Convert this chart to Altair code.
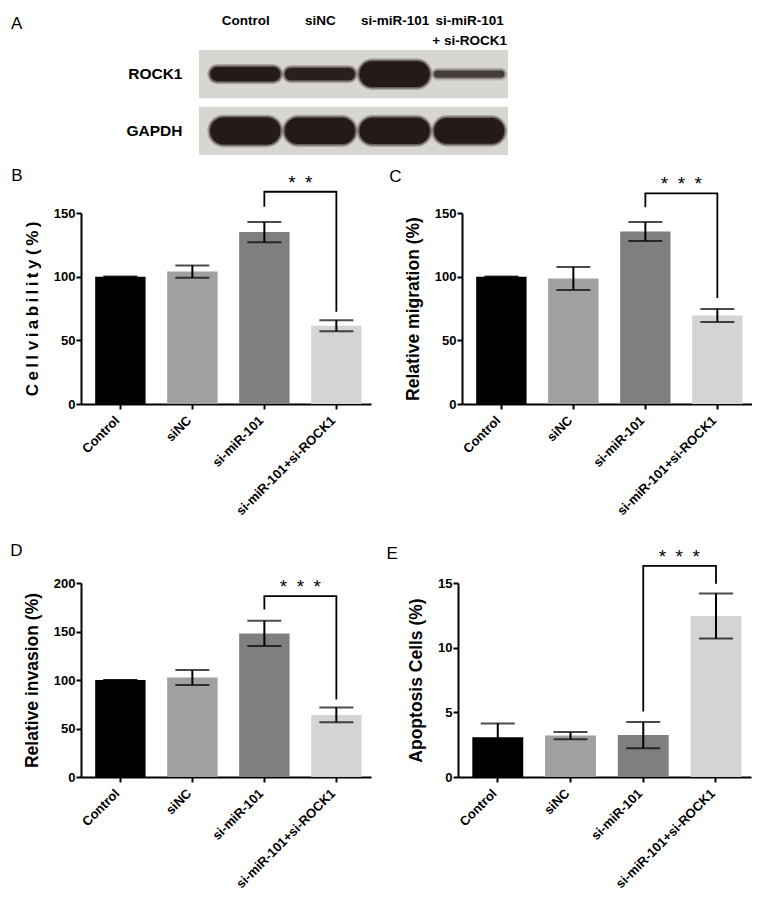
import json
import altair as alt
import pandas as pd

# ---------------- data ----------------
groups = ["Control", "siNC", "si-miR-101", "si-miR-101+si-ROCK1"]
bar_colors = ["#000000", "#a0a0a3", "#7f7f7f", "#d4d4d4"]

via_mean = [100, 104, 135, 61.5]
via_sem = [0, 4.8, 8.0, 4.3]
mig_mean = [100, 98.5, 135.5, 69.5]
mig_sem = [0, 9.0, 7.5, 5.2]
inv_mean = [100, 102.5, 148, 64]
inv_sem = [0, 7.7, 13.0, 7.6]
apo_mean = [3.07, 3.2, 3.24, 12.45]
apo_sem = [1.07, 0.28, 1.02, 1.74]

# bracket: [left leg bottom, top, right leg bottom]
via_bracket = [155, 166.7, 72.5]
mig_bracket = [154.5, 165.4, 83.3]
inv_bracket = [172.6, 186.5, 79.9]
apo_bracket = [5.06, 16.33, 14.95]

# western blot (relative band intensity)
lane_labels = ["Control", "siNC", "si-miR-101", ["si-miR-101", "+ si-ROCK1"]]
proteins = ["ROCK1", "GAPDH"]
rock1_intensity = [0.52, 0.45, 0.95, 0.25]
gapdh_intensity = [1.0, 0.97, 0.97, 0.95]
membrane = [-0.62, 3.52]   # membrane extent in lane units

FONT = "Liberation Sans"

# ---------------- panel A: blot ----------------
rows = []
for i in range(4):
    rows.append({"lane": i, "protein": "ROCK1", "intensity": rock1_intensity[i]})
    rows.append({"lane": i, "protein": "GAPDH", "intensity": gapdh_intensity[i]})
blot_df = pd.DataFrame(rows)

xb = alt.Scale(domain=[-2.201, 3.52], nice=False, zero=False)
yb = alt.Scale(domain=proteins, paddingInner=0.15, paddingOuter=0)
blot_xaxis = alt.Axis(orient="top", values=[0, 1, 2, 3],
                      labelExpr=json.dumps(lane_labels) + "[datum.value]",
                      ticks=False, domain=False, grid=False, title=None,
                      labelFontSize=13.5, labelFontWeight="bold", labelBaseline="middle",
                      labelPadding=30, labelLineHeight=20, labelOverlap=False, labelFlush=False)
blot_yaxis = alt.Axis(ticks=False, domain=False, title=None, labelFontSize=15.5,
                      labelFontWeight="bold", labelPadding=17, offset=-118)

bg_df = pd.DataFrame({"protein": proteins, "x1": [membrane[0]] * 2, "x2": [membrane[1]] * 2})
bg = alt.Chart(bg_df).mark_rect(color="#d8d6d1").encode(
    x=alt.X("x1:Q", scale=xb, axis=blot_xaxis),
    x2="x2:Q",
    y=alt.Y("protein:N", scale=yb, sort=proteins, axis=blot_yaxis),
)

def band_layer(extra, fade):
    return alt.Chart(blot_df).transform_calculate(
        thick="datum.intensity * 27",
    ).transform_calculate(
        half="0.47 - datum.thick / 149",
        sw=f"datum.thick + {extra}",
        op=f"min(1, 0.35 + datum.intensity * 1.3) * {fade}",
    ).transform_calculate(
        x1="datum.lane - datum.half",
        x2="datum.lane + datum.half",
    ).mark_rule(strokeCap="round", color="#241a1a").encode(
        x=alt.X("x1:Q", scale=xb, axis=blot_xaxis),
        x2="x2:Q",
        y=alt.Y("protein:N", scale=yb, sort=proteins, bandPosition=0.5, axis=blot_yaxis),
        strokeWidth=alt.StrokeWidth("sw:Q", scale=None),
        opacity=alt.Opacity("op:Q", scale=None),
    )

blot = alt.layer(bg, band_layer(6, 0.25), band_layer(3, 0.5), band_layer(0, 1.0)).properties(
    width=427, height=105,
    title=alt.TitleParams("A", anchor="start", frame="group", dx=-70, dy=20, offset=0),
)

# ---------------- bar panels ----------------
def spaced(s):
    return " ".join("\u2009".join(w) for w in s.split(" "))

def bar_panel(letter, ytitle, means, sems, ymax, yticks, bracket, stars, width, height,
              tdx, tdy, title_size=17.5):
    df = pd.DataFrame({"group": groups, "mean": means, "sem": sems})
    df["lo"] = df["mean"] - df["sem"]
    df["hi"] = df["mean"] + df["sem"]
    xs = alt.Scale(domain=groups, paddingInner=0.3, paddingOuter=0.164, align=0.6)
    ys = alt.Scale(domain=[0, ymax], nice=False, zero=True)
    xaxis = alt.Axis(title=None, labelAngle=-45, labelFontSize=13, labelFontWeight="bold",
                     labelAlign="right", labelBaseline="middle", labelPadding=9, labelOffset=-3,
                     tickSize=5, tickWidth=2, domainWidth=2, labelOverlap=False)
    yaxis = alt.Axis(values=yticks, grid=False, labelFontSize=13, labelFontWeight="bold",
                     tickSize=5, tickWidth=2, domainWidth=2, labelPadding=1,
                     titleFontSize=title_size, titleFontWeight="bold", titlePadding=12)

    def X():
        return alt.X("group:N", scale=xs, axis=xaxis, sort=groups, title=None)

    def Y(f):
        return alt.Y(f, scale=ys, axis=yaxis, title=ytitle)

    base = alt.Chart(df)
    bars = base.mark_bar().encode(
        x=X(), y=Y("mean:Q"),
        color=alt.Color("group:N", scale=alt.Scale(domain=groups, range=bar_colors), legend=None),
    )
    stems = base.mark_rule(color="black", strokeWidth=2).encode(x=X(), y=Y("lo:Q"), y2="hi:Q")
    caps = base.transform_fold(["lo", "hi"], as_=["end", "val"]).mark_tick(
        orient="horizontal", size=34, thickness=2, color="black"
    ).encode(x=X(), y=Y("val:Q"))

    br_df = pd.DataFrame({
        "group": [groups[2], groups[2], groups[3], groups[3]],
        "v": [bracket[0], bracket[1], bracket[1], bracket[2]],
        "o": [0, 1, 2, 3],
    })
    br = alt.Chart(br_df).mark_line(color="black", strokeWidth=1.8, clip=False).encode(
        x=X(), y=Y("v:Q"), order="o:Q"
    )
    st_df = pd.DataFrame({"group": [groups[2]], "v": [bracket[1]], "s": [stars]})
    st = alt.Chart(st_df).mark_text(dx=36, dy=-3, fontSize=19, baseline="alphabetic",
                                    align="center", color="black").encode(
        x=X(), y=Y("v:Q"), text="s:N"
    )
    return alt.layer(bars, stems, caps, br, st).properties(
        width=width, height=height,
        title=alt.TitleParams(letter, anchor="start", frame="bounds", dx=tdx, dy=tdy, offset=0),
    )

two = "*\u2002*"
three = "*\u2002*\u2002*"

pB = bar_panel("B", spaced("Cell viability (%)"), via_mean, via_sem, 150, [0, 50, 100, 150],
               via_bracket, two, 290, 191, -12, 11, title_size=17)
pC = bar_panel("C", "Relative migration (%)", mig_mean, mig_sem, 150, [0, 50, 100, 150],
               mig_bracket, three, 290, 191, -15, 11)
pD = bar_panel("D", "Relative invasion (%)", inv_mean, inv_sem, 200, [0, 50, 100, 150, 200],
               inv_bracket, three, 290, 194, -13, -17)
pE = bar_panel("E", "Apoptosis Cells (%)", apo_mean, apo_sem, 15, [0, 5, 10, 15],
               apo_bracket, three, 293, 194, -21, 15)

row2 = alt.hconcat(pB, pC, spacing=18)
row3 = alt.hconcat(pD, pE, spacing=15)

chart = alt.vconcat(blot, alt.vconcat(row2, row3, spacing=24), spacing=11).properties(
    padding={"left": 2, "top": 5, "right": 0, "bottom": 5}
).configure(
    font=FONT
).configure_view(stroke=None).configure_axis(
    labelColor="black", titleColor="black", domainColor="black", tickColor="black",
    labelFont=FONT, titleFont=FONT,
).configure_title(color="black", font=FONT, fontWeight="normal", fontSize=17)

chart.save("out.html", embed_options={"renderer": "svg", "actions": False})
